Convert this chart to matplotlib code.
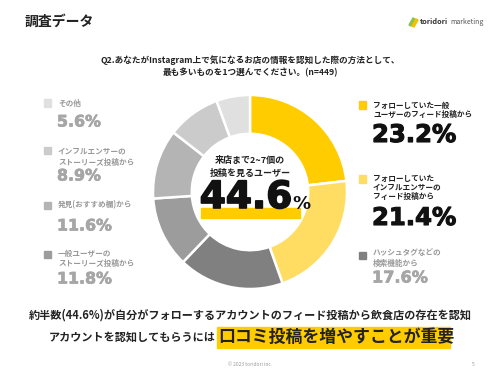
import matplotlib
matplotlib.use("Agg")
import matplotlib.pyplot as plt
from matplotlib.patches import Rectangle, Polygon
import matplotlib.patheffects as pe

plt.rcParams['font.family'] = ['Noto Sans CJK JP', 'DejaVu Sans']

# ---- data ----
labels = ["フォローしていた一般\nユーザーのフィード投稿から",
          "フォローしていた\nインフルエンサーの\nフィード投稿から",
          "ハッシュタグなどの\n検索機能から",
          "一般ユーザーの\nストーリーズ投稿から",
          "発見(おすすめ欄)から",
          "インフルエンサーの\nストーリーズ投稿から",
          "その他"]
values = [23.2, 21.4, 17.6, 11.8, 11.6, 8.9, 5.6]
colors = ["#FFCC00", "#FFDD63", "#808080", "#9C9C9C", "#B4B4B4", "#CBCBCB", "#E0E0E0"]
center_value = 44.6

W, H = 500, 375
fig = plt.figure(figsize=(5, 3.75), dpi=100)
fig.patch.set_facecolor("white")

NUM_FONT = ['DejaVu Sans']

def P(x, y):
    return x / W, 1 - y / H

def T(x, y, s, **kw):
    return fig.text(*P(x, y), s, **kw)

def heavy(color, lw):
    return [pe.withStroke(linewidth=lw, foreground=color)]

# header
T(25, 22, "調査データ", fontsize=10, fontweight='bold', va='center', ha='left', color='#222222')
fig.patches.append(Polygon([P(409, 25), P(413, 18), P(415, 19), P(411, 26)], closed=True,
                           transform=fig.transFigure, color='#8BC34A'))
fig.patches.append(Polygon([P(412, 26), P(416, 19), P(418, 20), P(414, 27)], closed=True,
                           transform=fig.transFigure, color='#F2C200'))
T(420, 22, "toridori", fontsize=5.3, fontweight='bold', va='center', ha='left', color='#333333')
T(450, 22, "marketing", fontsize=5.0, va='center', ha='left', color='#555555')

T(250, 60, "Q2.あなたがInstagram上で気になるお店の情報を認知した際の方法として、",
  fontsize=6.2, fontweight='bold', ha='center', va='center', color='#222222')
T(250, 73, "最も多いものを1つ選んでください。(n=449)",
  fontsize=6.2, fontweight='bold', ha='center', va='center', color='#222222')

# donut
cx, cy, r = 250, 192, 97
ax = fig.add_axes([(cx - r) / W, 1 - (cy + r) / H, 2 * r / W, 2 * r / H])
ax.pie(values, colors=colors, startangle=90, counterclock=False, radius=1,
       wedgeprops=dict(width=0.40, edgecolor='white', linewidth=1.8))
ax.set_xlim(-1, 1)
ax.set_ylim(-1, 1)
ax.set_aspect('equal')
ax.axis('off')

# center text
T(250, 160, "来店まで2~7個の", fontsize=6.5, fontweight='bold', ha='center', va='center', color='#222222')
T(250, 173, "投稿を見るユーザー", fontsize=6.5, fontweight='bold', ha='center', va='center', color='#222222')
fig.patches.append(Rectangle(P(201, 218), 99 / W, 10 / H, transform=fig.transFigure,
                             color='#FFCC00', zorder=1))
T(246, 198, f"{center_value}", fontsize=27, fontweight='bold', family=NUM_FONT, ha='center',
  va='center', color='#111111', zorder=3, path_effects=heavy('#111111', 1.2))
T(292, 204, "%", fontsize=13, fontweight='bold', family=NUM_FONT, ha='left', va='center',
  color='#111111', zorder=3)

# legends
def legend_item(xsq, ysq, text_lines_y, text, pct, pct_y, pct_size, txt_color, pct_color, sq_color, lw):
    fig.patches.append(Rectangle(P(xsq, ysq + 3.5), 7 / W, 7 / H, transform=fig.transFigure,
                                 color=sq_color))
    for yy, line in zip(text_lines_y, text.split("\n")):
        T(xsq + 14, yy, line, fontsize=5.5, fontweight='bold', ha='left', va='center', color=txt_color)
    T(xsq + 13, pct_y, f"{pct}%", fontsize=pct_size, fontweight='bold', family=NUM_FONT,
      ha='left', va='center', color=pct_color, path_effects=heavy(pct_color, lw))

gray_txt = '#999999'
gray_pct = '#A6A6A6'
# left column
legend_item(44, 103, [103], labels[6], values[6], 122, 11.4, gray_txt, gray_pct, colors[6], 0.5)
legend_item(44, 151, [151, 162], labels[5], values[5], 176, 11.4, gray_txt, gray_pct, colors[5], 0.5)
legend_item(44, 205, [205], labels[4], values[4], 226, 11.4, gray_txt, gray_pct, colors[4], 0.5)
legend_item(44, 254, [253, 263], labels[3], values[3], 279, 11.4, gray_txt, gray_pct, colors[3], 0.5)

# right column
legend_item(359, 105, [105, 114], labels[0], values[0], 135, 17.5, '#222222', '#111111', colors[0], 0.8)
legend_item(359, 179, [178, 187, 196], labels[1], values[1], 218, 17.5, '#222222', '#111111', colors[1], 0.8)
legend_item(359, 255, [253, 263], labels[2], values[2], 278, 11.6, gray_txt, gray_pct, colors[2], 0.5)

# bottom message
T(250, 315, "約半数(44.6%)が自分がフォローするアカウントのフィード投稿から飲食店の存在を認知",
  fontsize=8.0, fontweight='bold', ha='center', va='center', color='#222222')
T(216, 337, "アカウントを認知してもらうには", fontsize=8.0, fontweight='bold', ha='right',
  va='center', color='#222222')
fig.patches.append(Rectangle(P(217, 348), 233 / W, 21 / H, transform=fig.transFigure,
                             color='#FFCC00', zorder=1))
T(218, 337, "口コミ投稿を増やすことが重要", fontsize=12.2, fontweight='bold', ha='left',
  va='center', color='#222222', zorder=3)

# footer
T(250, 365, "© 2023 toridori inc.", fontsize=3.5, ha='center', va='center', color='#999999')
T(473, 365, "5", fontsize=3.5, ha='center', va='center', color='#999999')

fig.savefig("out.png", dpi=100, facecolor='white')
